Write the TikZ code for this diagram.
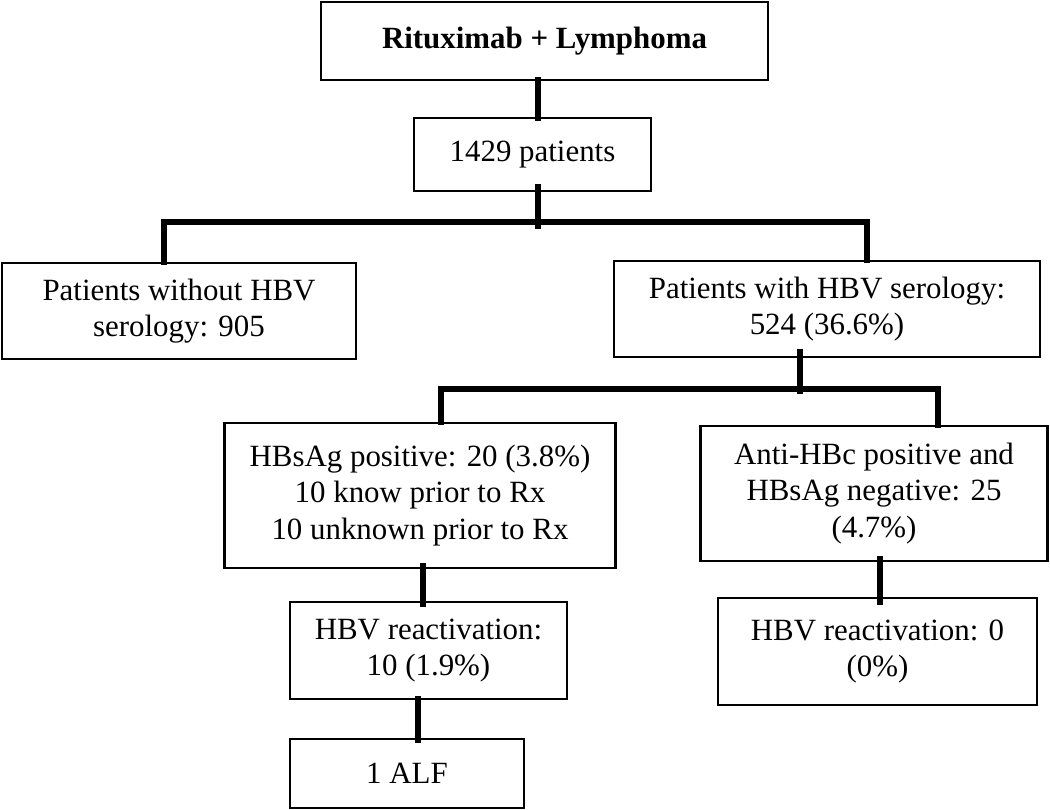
\documentclass[tikz,border=0pt]{standalone}
\usepackage{fontspec}
\setmainfont{Liberation Serif}
\tikzset{
  box/.style={draw, line width=2.2pt, align=center, inner sep=0pt,
    font=\fontsize{30.9}{36.5}\selectfont},
  conn/.style={line width=6.5pt, line cap=butt, line join=miter},
}
\begin{document}
\begin{tikzpicture}[x=1pt,y=-1pt]
\fill[white] (0,0) rectangle (1050,810);
\useasboundingbox (0,0) rectangle (1050,810);
% boxes
\node[box, minimum width=447pt, minimum height=78pt] (b1) at (544.5,41) {\textbf{Rituximab + Lymphoma}};
\node[box, minimum width=237pt, minimum height=73pt] (b2) at (532.5,154.5) {1429 patients};
\node[box, minimum width=354pt, minimum height=96pt] (b3) at (179,311) {Patients without HBV\\serology: 905};
\node[box, minimum width=426pt, minimum height=96pt] (b4) at (827,309) {Patients with HBV serology:\\524 (36.6\%)};
\node[box, minimum width=391pt, minimum height=145pt] (b5) at (420,495.5) {HBsAg positive: 20 (3.8\%)\\10 know prior to Rx\\10 unknown prior to Rx};
\node[box, minimum width=347pt, minimum height=135pt] (b6) at (874,493.5) {Anti-HBc positive and\\HBsAg negative: 25\\(4.7\%)};
\node[box, minimum width=277pt, minimum height=97pt] (b7) at (428.5,650.5) {HBV reactivation:\\10 (1.9\%)};
\node[box, minimum width=319pt, minimum height=107pt] (b8) at (877.5,651.5) {HBV reactivation: 0\\(0\%)};
\node[box, minimum width=234pt, minimum height=69pt] (b9) at (407,773.5) {1 ALF};
% connector reference points
\coordinate (c1) at (538,222);
\coordinate (c1e) at (538,229);
\coordinate (l1) at (164,222);
\coordinate (r1) at (867,222);
\coordinate (c2) at (800,389);
\coordinate (c2e) at (800,394);
\coordinate (l2) at (441,389);
\coordinate (r2) at (938,389);
\coordinate (v5) at (423,0);
\coordinate (v7) at (418,0);
\coordinate (v6) at (880,0);
% connectors
\draw[conn, shorten <=-4pt, shorten >=-4pt] (b1.south -| c1) -- (b2.north -| c1);
\draw[conn, shorten <=-8pt] (b2.south -| c1) -- (c1e);
\draw[conn, shorten <=-3pt, shorten >=-3pt] (l1 |- b3.north) -- (l1) -- (r1) -- (r1 |- b4.north);
\draw[conn, shorten <=-9pt] (b4.south -| c2) -- (c2e);
\draw[conn, shorten <=-3pt, shorten >=-3pt] (l2 |- b5.north) -- (l2) -- (r2) -- (r2 |- b6.north);
\draw[conn, shorten <=-6pt, shorten >=-6pt] (b5.south -| v5) -- (b7.north -| v5);
\draw[conn, shorten <=-4pt, shorten >=-5pt] (b7.south -| v7) -- (b9.north -| v7);
\draw[conn, shorten <=-6pt, shorten >=-8pt] (b6.south -| v6) -- (b8.north -| v6);
\end{tikzpicture}
\end{document}
